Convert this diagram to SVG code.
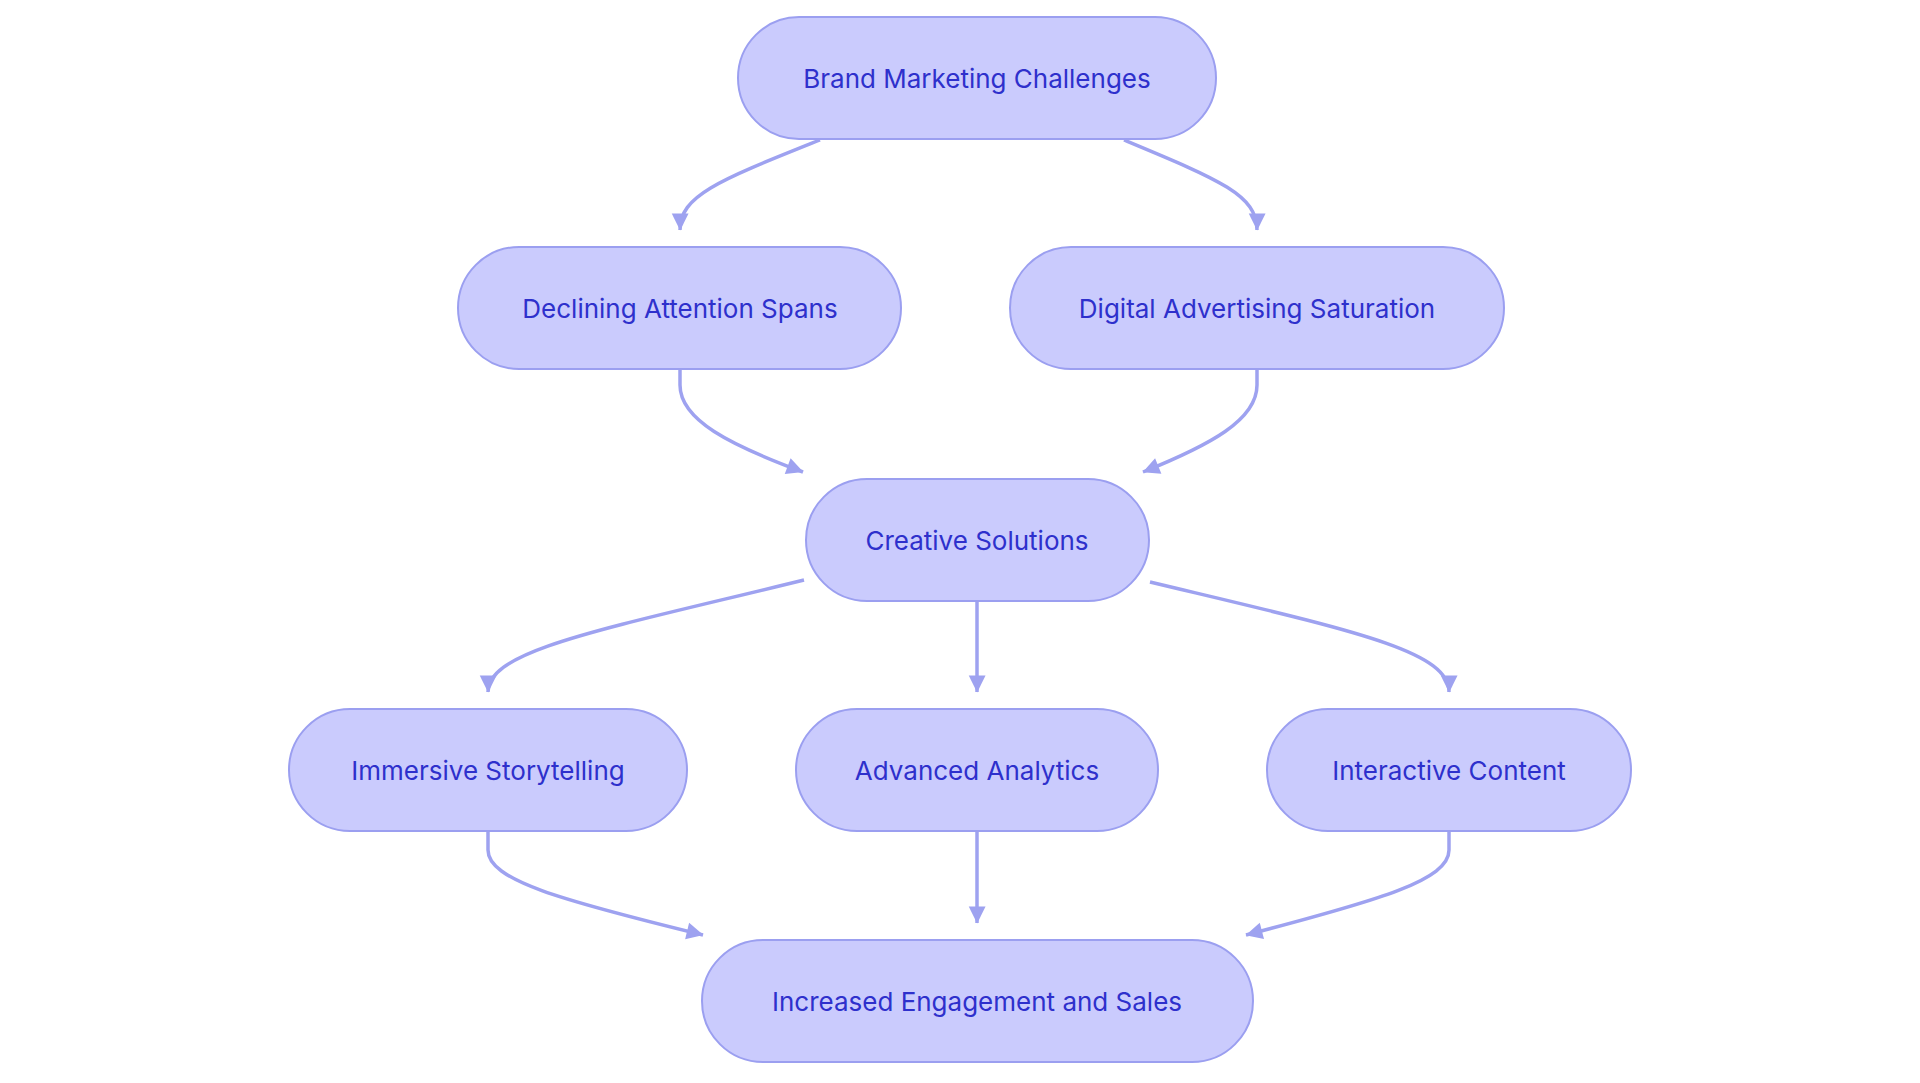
<svg xmlns="http://www.w3.org/2000/svg" width="1920" height="1083" viewBox="0 0 1920 1083">
<style>
.n rect{fill:#cacbfd;stroke:#9b9ff0;stroke-width:2}
.n text{font-family:Inter,"Noto Sans",sans-serif;font-size:26px;fill:#2e30cc;text-anchor:middle;dominant-baseline:central}
.e path{fill:none;stroke:#9ea2f0;stroke-width:3.5}
</style>
<defs><marker id="a" viewBox="0 0 10 10" refX="9" refY="5" markerWidth="7" markerHeight="7" markerUnits="userSpaceOnUse" orient="auto" style="overflow:visible"><path d="M0,0L10,5L0,10z" fill="#9ea2f0" transform="scale(2.4) translate(-6,-3) scale(1)"/></marker></defs>
<rect width="1920" height="1083" fill="#fff"/>
<g class="e">
<path d="M820,140 C720,180 680,195 680,230" marker-end="url(#a)"/>
<path d="M1124,140 C1220,180 1257,195 1257,230" marker-end="url(#a)"/>
<path d="M680,369 L680,385 C680,420 730,445 803,472" marker-end="url(#a)"/>
<path d="M1257,369 L1257,385 C1257,420 1210,445 1143,472" marker-end="url(#a)"/>
<path d="M804,580 C600,630 488,650 488,692" marker-end="url(#a)"/>
<path d="M977,600 L977,692" marker-end="url(#a)"/>
<path d="M1150,582 C1350,630 1449,650 1449,692" marker-end="url(#a)"/>
<path d="M488,831 L488,850 C488,880 560,900 703,935" marker-end="url(#a)"/>
<path d="M977,831 L977,923" marker-end="url(#a)"/>
<path d="M1449,831 L1449,850 C1449,880 1380,900 1246,935" marker-end="url(#a)"/>
</g>
<g id="n1" class="n"><rect x="738" y="17" width="478" height="122" rx="61"/><text x="977" y="78">Brand Marketing Challenges</text></g>
<g id="n2" class="n"><rect x="458" y="247" width="443" height="122" rx="61"/><text x="680" y="308">Declining Attention Spans</text></g>
<g id="n3" class="n"><rect x="1010" y="247" width="494" height="122" rx="61"/><text x="1257" y="308">Digital Advertising Saturation</text></g>
<g id="n4" class="n"><rect x="806" y="479" width="343" height="122" rx="61"/><text x="977" y="540">Creative Solutions</text></g>
<g id="n5" class="n"><rect x="289" y="709" width="398" height="122" rx="61"/><text x="488" y="770">Immersive Storytelling</text></g>
<g id="n6" class="n"><rect x="796" y="709" width="362" height="122" rx="61"/><text x="977" y="770">Advanced Analytics</text></g>
<g id="n7" class="n"><rect x="1267" y="709" width="364" height="122" rx="61"/><text x="1449" y="770">Interactive Content</text></g>
<g id="n8" class="n"><rect x="702" y="940" width="551" height="122" rx="61"/><text x="977" y="1001">Increased Engagement and Sales</text></g>
</svg>
